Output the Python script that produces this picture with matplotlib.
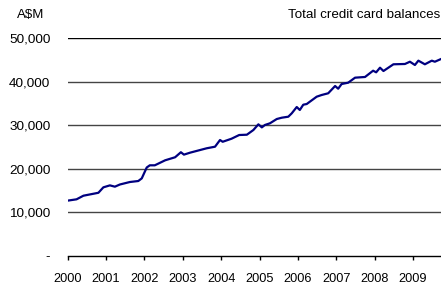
import matplotlib
matplotlib.use("Agg")
import matplotlib.pyplot as plt
from matplotlib.ticker import FuncFormatter

plt.rcParams['font.family'] = ['Liberation Sans', 'DejaVu Sans']

# Decimal year and balance (A$M)
years = [2000.00, 2000.23, 2000.41, 2000.80, 2000.93, 2001.10, 2001.23, 2001.36,
         2001.62, 2001.84, 2001.93, 2002.06, 2002.14, 2002.27, 2002.54, 2002.80,
         2002.95, 2003.03, 2003.19, 2003.62, 2003.84, 2003.97, 2004.04, 2004.27,
         2004.47, 2004.67, 2004.84, 2004.97, 2005.06, 2005.14, 2005.27, 2005.45,
         2005.58, 2005.75, 2005.84, 2005.97, 2006.05, 2006.14, 2006.23, 2006.49,
         2006.62, 2006.79, 2006.97, 2007.05, 2007.14, 2007.31, 2007.49, 2007.75,
         2007.96, 2008.04, 2008.14, 2008.23, 2008.49, 2008.79, 2008.92, 2009.05,
         2009.14, 2009.31, 2009.49, 2009.57, 2009.73]
balances = [12700, 13000, 13830, 14500, 15750, 16200, 15900, 16400,
            16970, 17200, 17800, 20300, 20800, 20800, 21950, 22650,
            23800, 23250, 23700, 24700, 25070, 26600, 26200, 26900,
            27750, 27820, 28900, 30200, 29500, 30050, 30430, 31420,
            31720, 31950, 32730, 34170, 33490, 34700, 34860, 36540,
            36930, 37320, 38990, 38370, 39450, 39750, 40900, 41060,
            42500, 42130, 43190, 42430, 43970, 44040, 44560, 43810,
            44800, 43970, 44800, 44560, 45180]

year_ticks = list(range(2000, 2010))
y_ticks = [0, 10000, 20000, 30000, 40000, 50000]

W, H = 441, 287
fig = plt.figure(figsize=(W / 100, H / 100), dpi=100)
ax = fig.add_axes([67.7 / W, 1 - 256 / H, 1 - 67.7 / W, (256 - 38) / H])

for v in y_ticks[1:]:
    ax.axhline(v, color='#000000' if v == 50000 else '#444444', lw=1.0, zorder=1)

ax.plot(years, balances, color='#000080', lw=1.6, zorder=3, solid_joinstyle='round')

ax.set_xlim(2000, 2009.73)
ax.set_ylim(0, 50000)
ax.set_xticks(year_ticks)
ax.set_xticklabels([str(y) for y in year_ticks], fontsize=9.2)
ax.set_yticks(y_ticks)
ax.yaxis.set_major_formatter(FuncFormatter(lambda v, p: '-' if v == 0 else f'{int(v):,}'))
ax.tick_params(axis='y', length=0, labelsize=9.7, pad=12.5)
ax.tick_params(axis='x', length=3, width=1, color='black', pad=9)

for s in ['left', 'right', 'top']:
    ax.spines[s].set_visible(False)
ax.spines['bottom'].set_color('black')
ax.spines['bottom'].set_linewidth(1.0)

fig.text(16.7 / W, 1 - 15 / H, 'A$M', fontsize=9.5, va='center', ha='left')
fig.text(288.5 / W, 1 - 15 / H, 'Total credit card balances', fontsize=9.6, va='center', ha='left')

fig.savefig('out.png', dpi=100)
